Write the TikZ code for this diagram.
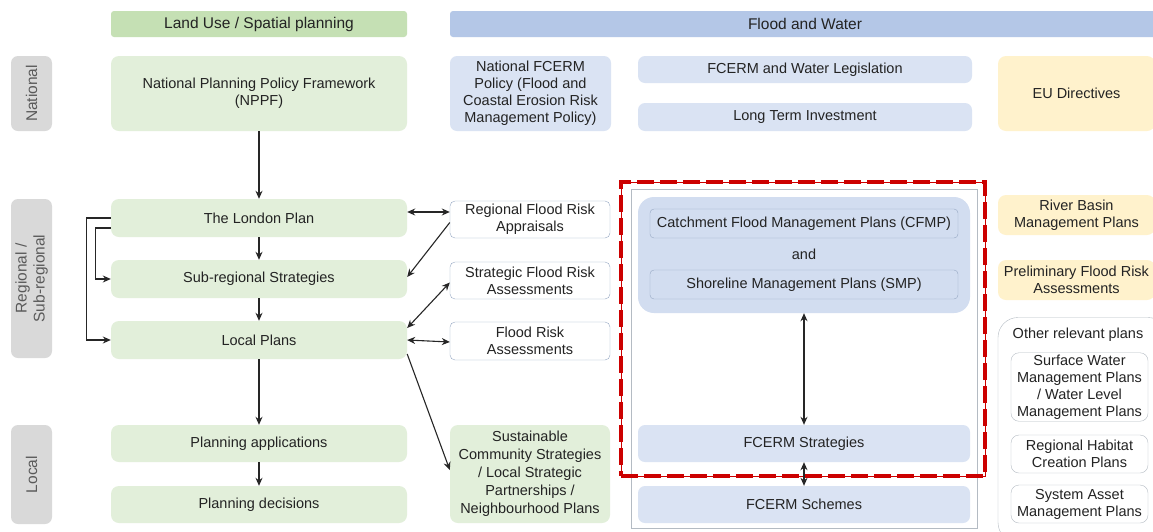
\documentclass[tikz,border=0pt]{standalone}
\usepackage{fontspec}
\setmainfont{Liberation Sans}
\usepackage{xcolor}
\usepackage{tikz}
\usetikzlibrary{arrows.meta}
\definecolor{landhead}{RGB}{197,224,180}
\definecolor{landfill}{RGB}{226,239,218}
\definecolor{floodhead}{RGB}{180,199,231}
\definecolor{floodfill}{RGB}{218,227,243}
\definecolor{groupfill}{RGB}{210,221,240}
\definecolor{eufill}{RGB}{255,242,204}
\definecolor{tiergray}{RGB}{217,217,217}
\definecolor{textdark}{RGB}{35,35,35}
\definecolor{tiertext}{RGB}{90,90,90}
\definecolor{edgeblue}{RGB}{150,168,195}
\definecolor{edgegray}{RGB}{180,187,195}
\definecolor{frred}{RGB}{204,0,0}
\newcommand{\boxfont}{\fontsize{14.5}{17}\selectfont}
\newcommand{\headfont}{\fontsize{15.5}{18}\selectfont}
\tikzstyle{header} = [rectangle, rounded corners=3pt, minimum height=26pt, text=textdark, font=\headfont]
\tikzstyle{tier} = [rectangle, rounded corners=7pt, fill=tiergray, minimum height=41pt, align=center, text=tiertext, font=\headfont, rotate=90]
\tikzstyle{landbox} = [rectangle, rounded corners=8pt, minimum width=296pt, minimum height=38pt, align=center, fill=landfill, text=textdark, font=\boxfont]
\tikzstyle{floodbox} = [rectangle, rounded corners=7pt, minimum width=332pt, minimum height=37pt, align=center, fill=floodfill, text=textdark, font=\boxfont]
\tikzstyle{assessbox} = [rectangle, rounded corners=5pt, minimum width=160pt, minimum height=37pt, align=center, draw=edgeblue, fill=white, text=textdark, font=\boxfont, inner sep=2pt]
\tikzstyle{planbox} = [rectangle, rounded corners=4pt, minimum width=308pt, minimum height=29pt, align=center, draw=edgeblue, fill=groupfill, text=textdark, font=\boxfont]
\tikzstyle{eubox} = [rectangle, rounded corners=8pt, minimum width=157pt, minimum height=40pt, align=center, fill=eufill, text=textdark, font=\boxfont, inner sep=2pt]
\tikzstyle{otherbox} = [rectangle, rounded corners=8pt, minimum width=137pt, minimum height=38pt, align=center, draw=edgegray, fill=white, text=textdark, font=\boxfont, inner sep=2pt]
\tikzstyle{arrow} = [line width=1.1pt, -{Stealth[length=8pt,width=7pt]}, draw=black!85]
\tikzstyle{biarrow} = [line width=1.1pt, {Stealth[length=8pt,width=7pt]}-{Stealth[length=8pt,width=7pt]}, draw=black!85]
\tikzstyle{focusframe} = [rectangle, draw=frred, line width=0.9pt, postaction={draw=frred, line width=4pt, dash pattern=on 17pt off 6pt}]

\begin{document}
\begin{tikzpicture}[x=1pt, y=-1pt]
    \useasboundingbox (0,0) rectangle (1153,531);
    \clip (0,0) rectangle (1153,531);
    \fill[white] (0,0) rectangle (1153,531);

    % Column headers
    \node[header, fill=landhead, minimum width=296pt] (landhead) at (259,24) {Land Use / Spatial planning};
    \node[header, fill=floodhead, minimum width=710pt] (floodhead) at (805,24) {Flood and Water};

    % Tiers down the left side
    \node[tier, minimum width=75pt] (national) at (31.5,93.5) {National};
    \node[tier, minimum width=159pt] (regional) at (31.5,278.5) {Regional /\\Sub-regional};
    \node[tier, minimum width=99pt] (local) at (31.5,474.5) {Local};

    % Land use column
    \node[landbox, minimum height=75pt] (nppf) at (259,93.5) {National Planning Policy Framework\\(NPPF)};
    \node[landbox] (london) at (259,218) {The London Plan};
    \node[landbox] (subreg) at (259,279) {Sub-regional Strategies};
    \node[landbox] (localplans) at (259,340) {Local Plans};
    \node[landbox, minimum height=37pt] (papps) at (259,443.5) {Planning applications};
    \node[landbox, minimum height=37pt] (pdec) at (259,504.5) {Planning decisions};

    % Assessments column
    \node[floodbox, minimum width=161pt, minimum height=75pt, inner sep=2pt] (natpolicy) at (530.5,93.5) {National FCERM\\Policy (Flood and\\Coastal Erosion Risk\\Management Policy)};
    \node[assessbox] (rfra) at (530,219.5) {Regional Flood Risk\\Appraisals};
    \node[assessbox] (sfra) at (530,280.5) {Strategic Flood Risk\\Assessments};
    \node[assessbox, minimum height=38pt] (fra) at (530,341) {Flood Risk\\Assessments};
    \node[landbox, minimum width=160pt, minimum height=98pt, inner sep=2pt, font=\fontsize{14.5}{18}\selectfont] (scs) at (530,474) {Sustainable\\Community Strategies\\/ Local Strategic\\Partnerships /\\Neighbourhood Plans};

    % FCERM column
    \node[floodbox, minimum width=334pt, minimum height=27pt] (legis) at (805,69.5) {FCERM and Water Legislation};
    \node[floodbox, minimum width=334pt, minimum height=28pt] (invest) at (805,117) {Long Term Investment};
    \node[rectangle, draw=edgegray, minimum width=346pt, minimum height=339pt] (panel) at (804,358.5) {};
    \node[rectangle, rounded corners=16pt, fill=groupfill, minimum width=332pt, minimum height=116pt] (cfmpgroup) at (804,255) {};
    \node[planbox] (cfmp) at (804,223.5) {Catchment Flood Management Plans (CFMP)};
    \node[text=textdark, font=\boxfont] (andtext) at (804,254) {and};
    \node[planbox] (smp) at (804,284.5) {Shoreline Management Plans (SMP)};
    \node[floodbox] (strategies) at (804,443.5) {FCERM Strategies};
    \node[floodbox] (schemes) at (804,504.5) {FCERM Schemes};

    % EU column
    \node[eubox, minimum height=75pt] (eu) at (1076.5,93.5) {EU Directives};
    \node[eubox] (rbmp) at (1076.5,215) {River Basin\\Management Plans};
    \node[eubox] (pfra) at (1076.5,280) {Preliminary Flood Risk\\Assessments};
    \node[rectangle, rounded corners=20pt, draw=edgegray, minimum width=170pt, minimum height=225pt] (others) at (1083,430) {};
    \node[text=textdark, font=\boxfont] (otherstitle) at (1078,335) {Other relevant plans};
    \node[otherbox, minimum height=68pt] (swmp) at (1079.5,387) {Surface Water\\Management Plans\\/ Water Level\\Management Plans};
    \node[otherbox] (rhcp) at (1079.5,454) {Regional Habitat\\Creation Plans};
    \node[otherbox] (samp) at (1079.5,504) {System Asset\\Management Plans};

    % Frame round the catchment and shoreline plans
    \node[focusframe, minimum width=364pt, minimum height=294pt] (focus) at (803,329) {};

    % Arrows
    \draw[arrow] (nppf) -- (london);
    \draw[arrow] (london) -- (subreg);
    \draw[arrow] (subreg) -- (localplans);
    \draw[arrow] (localplans) -- (papps);
    \draw[arrow] (papps) -- (pdec);
    \draw[arrow] (london.west) -- ++(-24,0) |- (localplans.west);
    \draw[arrow] ([yshift=-10pt]london.west) -- ++(-15,0) |- (subreg.west);
    \draw[biarrow] ([yshift=6pt]london.east) -- ([yshift=7.5pt]rfra.west);
    \draw[arrow] ([yshift=-3pt]rfra.west) -- ([yshift=2pt]subreg.east);
    \draw[biarrow] ([yshift=-2pt]sfra.west) -- ([yshift=12pt]localplans.east);
    \draw[biarrow] (localplans.east) -- ([yshift=-1pt]fra.west);
    \draw[arrow] ([yshift=-14pt]localplans.east) -- ([yshift=4pt]scs.west);
    \draw[biarrow] (cfmpgroup) -- (strategies);
    \draw[biarrow] (strategies) -- (schemes);
\end{tikzpicture}
\end{document}
